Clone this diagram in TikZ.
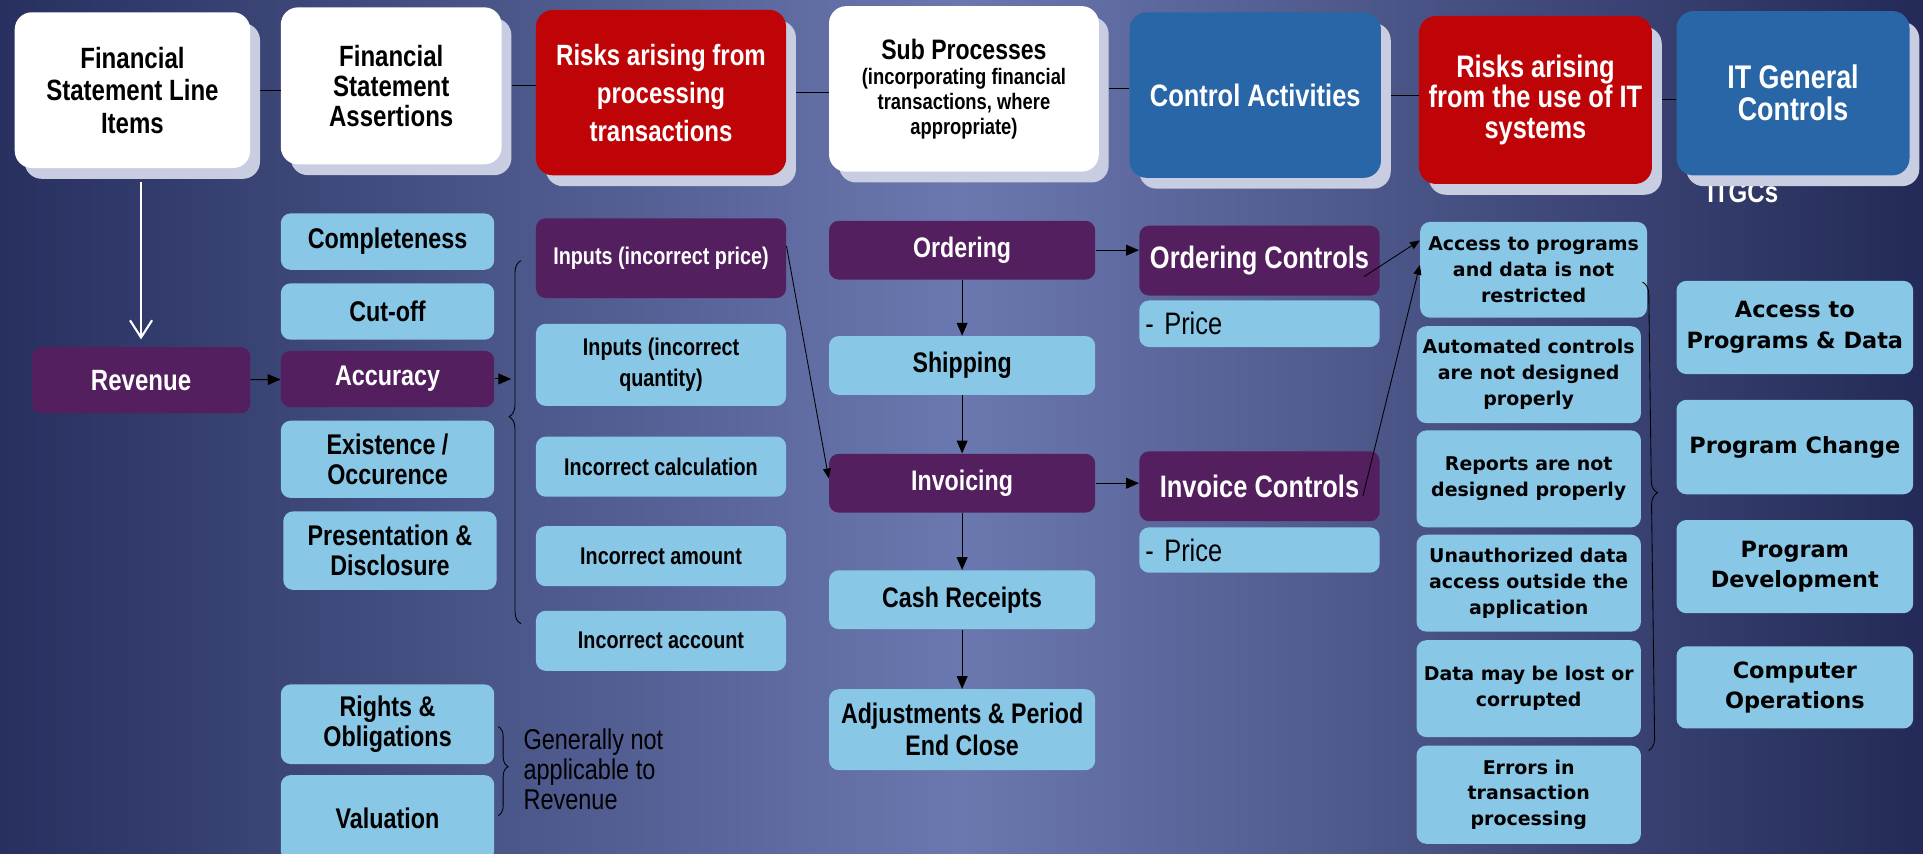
\documentclass[tikz,border=0pt]{standalone}
\usepackage{fontspec}
\setmainfont{Liberation Sans}
\newfontfamily\narrowsf{Liberation Sans}[FakeStretch = 0.82]
\newfontfamily\verd{DejaVu Sans}
\usetikzlibrary{arrows.meta, calc, shadows, decorations.pathreplacing}

\definecolor{bgside}{HTML}{27305F}
\definecolor{bgmid}{HTML}{6B78AF}
\definecolor{bgright}{HTML}{232A57}
\definecolor{skyb}{HTML}{89C7E7}
\definecolor{plum}{HTML}{531F5F}
\definecolor{crimson}{HTML}{BF0408}
\definecolor{royal}{HTML}{2966A7}
\definecolor{shadowc}{HTML}{C9CDE2}

\tikzset{
  box/.style = {rounded corners = 2mm, align = center, inner sep = 1mm, font = \narrowsf\bfseries\fontsize{16.5}{17.5}\selectfont},
  head/.style = {box, rounded corners = 3.5mm, font = \narrowsf\bfseries\fontsize{17}{17.4}\selectfont, drop shadow = {shadow xshift = 2mm, shadow yshift = -2.2mm, fill = shadowc, opacity = 1}},
  light/.style = {box, fill = skyb},
  dark/.style = {box, fill = plum, text = white},
  acol/.style = {minimum width = 43.5mm},
  rcol/.style = {minimum width = 51mm, font = \narrowsf\bfseries\fontsize{14}{17.8}\selectfont},
  scol/.style = {minimum width = 54.25mm, minimum height = 12mm, font = \narrowsf\bfseries\fontsize{16.4}{18.5}\selectfont},
  ccol/.style = {minimum width = 49mm, minimum height = 14.25mm, font = \narrowsf\bfseries\fontsize{18}{19}\selectfont},
  price/.style = {light, align = left, text width = 46.5mm, inner sep = 1.25mm, font = \narrowsf\fontsize{18}{19}\selectfont},
  itr/.style = {light, minimum width = 45.75mm, minimum height = 19.75mm, font = \verd\bfseries\fontsize{11}{15}\selectfont},
  itg/.style = {light, minimum width = 48.25mm, font = \verd\bfseries\fontsize{13}{17.8}\selectfont},
  arr/.style = {line width = 0.6pt, -{Triangle[length = 2.6mm, width = 2.2mm]}},
  sarr/.style = {line width = 0.5pt, -{Triangle[length = 2mm, width = 1.6mm]}},
  brc/.style = {decorate, line width = 0.5pt}
}

\begin{document}
\begin{tikzpicture}[x = 0.25mm, y = -0.25mm]
\shade[left color = bgside, right color = bgright, middle color = bgmid] (0,0) rectangle (1568,696);
\useasboundingbox (0,0) rectangle (1568,696);

\node[head, fill = white, minimum width = 48mm, minimum height = 31.75mm, font = \narrowsf\bfseries\fontsize{17}{18.8}\selectfont] (fsli) at (108,73.5) {Financial\\Statement Line\\Items};
\node[head, fill = white, minimum width = 45mm, minimum height = 32mm] (fsa) at (319,70) {Financial\\Statement\\Assertions};
\node[head, fill = crimson, text = white, minimum width = 51mm, minimum height = 33.75mm, font = \narrowsf\bfseries\fontsize{17}{22}\selectfont] (rproc) at (539,75.5) {Risks arising from\\processing\\transactions};
\node[head, fill = white, minimum width = 55mm, minimum height = 33.75mm, font = \narrowsf\bfseries\fontsize{13}{14.6}\selectfont] (subp) at (786,72.5) {{\fontsize{16.3}{16}\selectfont Sub Processes}\\(incorporating financial\\transactions, where\\appropriate)};
\node[head, fill = royal, text = white, minimum width = 51.25mm, minimum height = 33.75mm, font = \narrowsf\bfseries\fontsize{18}{19}\selectfont] (ctrl) at (1023.5,77.5) {Control Activities};
\node[head, fill = crimson, text = white, minimum width = 47.5mm, minimum height = 34.25mm, font = \narrowsf\bfseries\fontsize{18}{17.8}\selectfont] (rit) at (1252,81.5) {Risks arising\\from the use of IT\\systems};
\node[text = white, font = \narrowsf\bfseries\fontsize{17}{18}\selectfont] (itgcs) at (1421,157) {ITGCs};
\node[head, fill = royal, text = white, minimum width = 47.5mm, minimum height = 33.5mm, font = \narrowsf\bfseries\fontsize{19}{18.5}\selectfont] (itgc) at (1462,76) {IT General\\Controls};

\foreach \a/\b in {fsli/fsa, fsa/rproc, rproc/subp, subp/ctrl, ctrl/rit, rit/itgc}
  \draw[line width = 0.6pt, shorten <= 2mm] (\a.east) -- (\a.east -| \b.west);

\node[dark, minimum width = 44.5mm, minimum height = 13.5mm, font = \narrowsf\bfseries\fontsize{17}{18}\selectfont] (rev) at (115,310) {Revenue};
\draw[white, line width = 1.2pt, shorten >= 1.5mm, -{Straight Barb[length = 3.5mm, width = 4.5mm]}] ($(fsli.south -| rev)+(0,11)$) -- (rev.north);

\node[light, acol, minimum height = 11.5mm] (comp) at (316,197) {Completeness};
\node[light, acol, minimum height = 11.5mm] (cut) at (316,254) {Cut-off};
\node[dark, acol, minimum height = 11.5mm] (acc) at (316,309) {Accuracy};
\node[light, acol, minimum height = 15.75mm] (exist) at (316,374.5) {Existence /\\Occurence};
\node[light, acol, minimum height = 16mm] (pres) at (318,449) {Presentation \&\\Disclosure};
\node[light, acol, minimum height = 16.25mm] (rights) at (316,590.5) {Rights \&\\Obligations};
\node[light, acol, minimum height = 17.5mm] (val) at (316,667) {Valuation};
\draw[arr] (rev) -- (acc);

\node[dark, rcol, minimum height = 16.25mm] (rin1) at (539,210.5) {Inputs (incorrect price)};
\node[light, rcol, minimum height = 16.75mm] (rin2) at (539,297.5) {Inputs (incorrect\\quantity)};
\node[light, rcol, minimum height = 12.25mm] (rcalc) at (539,380.5) {Incorrect calculation};
\node[light, rcol, minimum height = 12.25mm] (ramt) at (539,453.5) {Incorrect amount};
\node[light, rcol, minimum height = 12.25mm] (racc) at (539,522.5) {Incorrect account};
\draw[arr, shorten >= 5mm] (acc.east) -- (acc.east -| rin1.west);
\draw[brc, decoration = {brace, amplitude = 2.4mm, aspect = 0.57}] ($(racc.west)+(-12,-14)$) -- ($(rin1.west)+(-12,2)$);

\node[dark, scol] (ord) at (784.5,204) {Ordering};
\node[light, scol] (ship) at (784.5,298) {Shipping};
\node[dark, scol] (inv) at (784.5,394) {Invoicing};
\node[light, scol] (cash) at (784.5,489) {Cash Receipts};
\node[light, scol, minimum height = 16.5mm] (adj) at (784.5,595) {Adjustments \& Period\\End Close};
\draw[arr] (ord) -- (ship);
\draw[arr] (ship) -- (inv);
\draw[arr] (inv) -- (cash);
\draw[arr] (cash) -- (adj);
\draw[sarr] ($(rin1.east)+(0,-10)$) -- ($(inv.west)+(0,-4)$);

\node[dark, ccol] (octl) at (1027,212.5) {Ordering Controls};
\node[price, minimum height = 9.5mm] (oprice) at (1027,264) {- Price};
\node[dark, ccol] (ictl) at (1027,396.5) {Invoice Controls};
\node[price, minimum height = 9.25mm] (iprice) at (1027,448.5) {- Price};
\draw[arr] (ord.east) -- (ord.east -| octl.west);
\draw[arr] (inv.east) -- (inv.east -| ictl.west);

\node[itr, minimum width = 46.25mm, minimum height = 19.5mm] (it1) at (1250.5,220) {Access to programs\\and data is not\\restricted};
\node[itr] (it2) at (1246.5,305.5) {Automated controls\\are not designed\\properly};
\node[itr] (it3) at (1246.5,390.5) {Reports are not\\designed properly};
\node[itr] (it4) at (1246.5,475.5) {Unauthorized data\\access outside the\\application};
\node[itr] (it5) at (1246.5,561.5) {Data may be lost or\\corrupted};
\node[itr, minimum height = 20mm] (it6) at (1246.5,648) {Errors in\\transaction\\processing};
\draw[sarr] ($(octl.east)+(-13,13)$) -- ($(it1.west)+(0,-24)$);
\draw[sarr] ($(ictl.east)+(-14,8)$) -- ($(it1.west)+(0,-4)$);
\draw[brc, decoration = {brace, amplitude = 2.5mm, aspect = 0.45}] ($(it1.east)+(-4,10)$) -- ($(it6.east)+(6,-36)$);

\node[itg, minimum height = 19mm] (g1) at (1463.5,267) {Access to\\Programs \& Data};
\node[itg, minimum height = 19.25mm] (g2) at (1463.5,364.5) {Program Change};
\node[itg, minimum height = 19mm] (g3) at (1463.5,462) {Program\\Development};
\node[itg, minimum height = 16.75mm] (g4) at (1463.5,560.5) {Computer\\Operations};

\draw[brc, decoration = {brace, amplitude = 2mm, aspect = 0.45}] ($(rights.east)+(3,2)$) -- ($(val.east)+(3,-2)$);
\node[anchor = west, align = left, font = \narrowsf\fontsize{16.6}{17.4}\selectfont] (gna) at (422,627) {Generally not\\applicable to\\Revenue};
\end{tikzpicture}
\end{document}
